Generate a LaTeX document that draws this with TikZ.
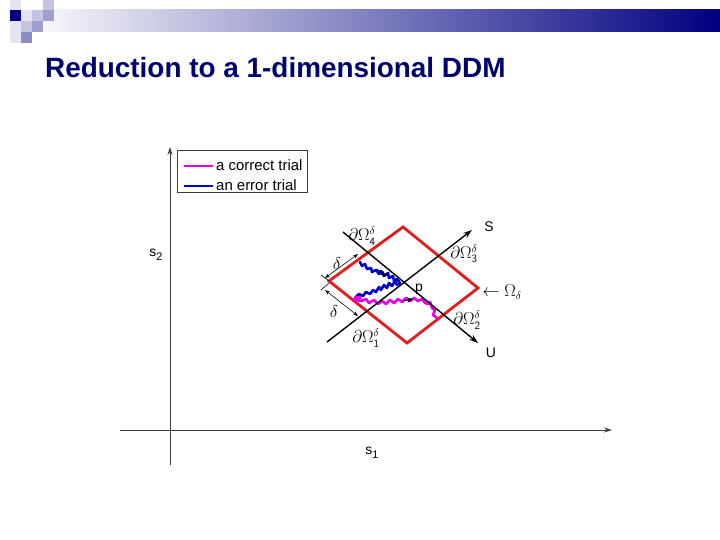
\documentclass[tikz,border=0pt]{standalone}
\usepackage{fontspec}
\setmainfont{Liberation Sans}
\usetikzlibrary{arrows.meta}
\definecolor{navy}{RGB}{0,0,128}
\definecolor{titleblue}{RGB}{0,0,110}
\definecolor{sqA}{RGB}{228,228,242}
\definecolor{sqB}{RGB}{196,196,226}
\definecolor{sqC}{RGB}{160,160,208}
\definecolor{sqD}{RGB}{140,140,196}
\definecolor{dred}{RGB}{228,28,28}
\definecolor{mag}{RGB}{230,0,230}
\definecolor{tblue}{RGB}{0,0,200}
\definecolor{axisgray}{RGB}{60,60,60}
\newcommand{\lowsub}[1]{\raisebox{-0.55ex}{\fontsize{11}{12}\selectfont #1}}
\tikzset{
  axisline/.style={draw=axisgray, line width=0.9bp, -{Stealth[length=8bp,width=5bp]}},
  mainline/.style={draw=black, line width=1.4bp, -{Stealth[length=9bp,width=6bp]}},
  dimline/.style={draw=black, line width=0.6bp, {Stealth[length=5bp,width=3.5bp]}-{Stealth[length=5bp,width=3.5bp]}},
  tick/.style={draw=black, line width=0.6bp},
  lbl/.style={inner sep=0pt, font=\fontsize{14}{16}\selectfont},
  mlbl/.style={inner sep=0pt, font=\fontsize{16}{18}\selectfont},
  legtxt/.style={inner sep=0pt, anchor=west, font=\fontsize{15}{17}\selectfont},
  trial/.style={line width=2.6bp, line join=round, line cap=round},
  dirarrow/.style={draw=black, line width=0.8bp, -{Stealth[length=6bp,width=5bp]}}
}
\begin{document}
\begin{tikzpicture}[x=1bp,y=-1bp]
\useasboundingbox (0,0) rectangle (720,540);
\fill[white] (0,0) rectangle (720,540);
% header
\shade[left color=white, right color=navy] (20,10) rectangle (720,32);
\fill[sqA] (10,0) rectangle (21,10);
\fill[sqB] (43,0) rectangle (54,10);
\fill[navy] (10,10) rectangle (21,21);
\fill[sqA] (21,10) rectangle (32,21);
\fill[sqB] (32,10) rectangle (43,21);
\fill[sqC] (43,10) rectangle (54,21);
\fill[sqA] (10,21) rectangle (21,43);
\fill[sqB] (21,21) rectangle (32,32);
\fill[sqC] (32,21) rectangle (43,32);
\fill[sqD] (21,32) rectangle (32,43);
\node[anchor=base west, inner sep=0pt, text=titleblue, font=\bfseries\fontsize{28}{32}\selectfont] (title) at (45,78) {Reduction to a 1-dimensional DDM};
% axes
\coordinate (xs) at (120,430); \coordinate (xe) at (612,430);
\coordinate (ys) at (170,465); \coordinate (ye) at (170,147);
\draw[axisline] (xs) -- (xe);
\draw[axisline] (ys) -- (ye);
\node[lbl] (s1) at (372,453) {s\lowsub{1}};
\node[lbl] (s2) at (156,255) {s\lowsub{2}};
% legend
\draw[axisgray, line width=0.8bp, fill=white] (177,150) rectangle (307,192);
\coordinate (lm1) at (184,166); \coordinate (lm2) at (213,166);
\coordinate (lb1) at (184,186); \coordinate (lb2) at (213,186);
\draw[mag, line width=1.8bp] (lm1) -- (lm2);
\draw[tblue, line width=1.8bp] (lb1) -- (lb2);
\node[legtxt] (lt1) at (216,165) {a correct trial};
\node[legtxt] (lt2) at (216,185) {an error trial};
% diamond
\coordinate (dT) at (403,227); \coordinate (dR) at (478,288);
\coordinate (dB) at (407,343); \coordinate (dL) at (329,281);
\draw[dred, line width=2.8bp, line join=miter] (dT) -- (dR) -- (dB) -- (dL) -- cycle;
% trials
\draw[tblue, trial] (360,262) -- (362,266) -- (365,264) -- (367,269) -- (371,268) -- (372,272) -- (376,270) -- (379,274) -- (381,271) -- (384,276) -- (388,273) -- (389,278) -- (393,276) -- (394,281) -- (397,279) -- (400,283)
  -- (397,285) -- (395,281) -- (392,286) -- (389,283) -- (387,288) -- (384,285) -- (381,290) -- (379,287) -- (376,292) -- (373,290) -- (370,294) -- (366,292) -- (363,296) -- (359,294) -- (355,298);
\draw[mag, trial] (354,299) -- (358,297) -- (362,301) -- (366,299) -- (369,303) -- (374,300) -- (378,304) -- (382,301) -- (386,304) -- (390,300) -- (394,303) -- (398,299) -- (402,302) -- (406,298) -- (410,301) -- (414,298) -- (418,301) -- (422,299) -- (425,303) -- (428,304) -- (430,302) -- (432,308) -- (435,310) -- (433,315) -- (437,318);
\fill[mag] (354,296) rectangle (361,302);
\coordinate (ba1) at (377,269); \coordinate (ba2) at (386,276);
\draw[dirarrow] (ba1) -- (ba2);
\coordinate (ma1) at (403,301); \coordinate (ma2) at (413,299);
\draw[dirarrow] (ma1) -- (ma2);
% S and U
\coordinate (S0) at (327,342); \coordinate (S1) at (472,230);
\coordinate (U0) at (343,232); \coordinate (U1) at (478,343);
\draw[mainline] (S0) -- (S1);
\draw[mainline] (U0) -- (U1);
% delta dims
\coordinate (tk1a) at (329,281); \coordinate (tk1b) at (321,275);
\coordinate (tk2a) at (329,283); \coordinate (tk2b) at (321,290);
\draw[tick] (tk1a) -- (tk1b);
\draw[tick] (tk2a) -- (tk2b);
\coordinate (da1) at (325,278); \coordinate (da2) at (358,254);
\coordinate (db1) at (325,290); \coordinate (db2) at (358,316);
\draw[dimline] (da1) -- (da2);
\draw[dimline] (db1) -- (db2);
% labels
\node[lbl] (Sl) at (489,227) {S};
\node[lbl] (Ul) at (491,353) {U};
\node[lbl] (pl) at (419,289) {p};
\node[mlbl] (om) at (502,292) {$\leftarrow\Omega_{\delta}$};
\node[mlbl] (b4) at (362,236) {$\partial\Omega^{\delta}_{\mathsf{4}}$};
\node[mlbl] (b3) at (464,254) {$\partial\Omega^{\delta}_{\mathsf{3}}$};
\node[mlbl] (b2) at (467,320) {$\partial\Omega^{\delta}_{\mathsf{2}}$};
\node[mlbl] (b1) at (366,338) {$\partial\Omega^{\delta}_{\mathsf{1}}$};
\node[mlbl] (d1) at (337,264) {$\delta$};
\node[mlbl] (d2) at (334,312) {$\delta$};
\end{tikzpicture}
\end{document}
